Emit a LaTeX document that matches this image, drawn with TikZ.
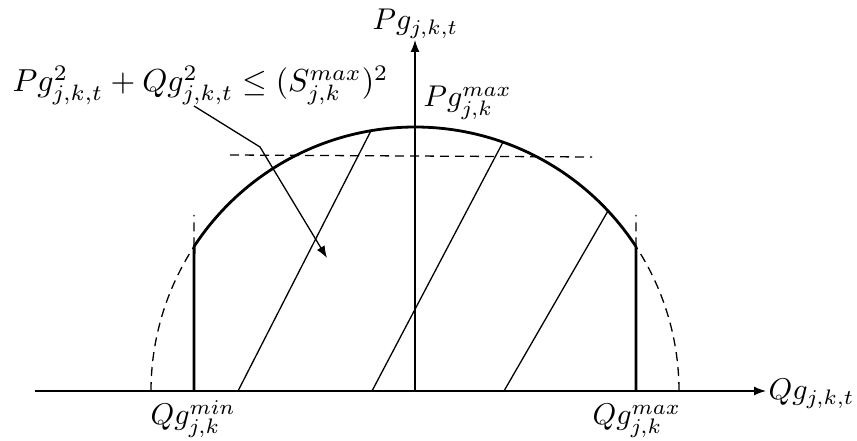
\documentclass[tikz,border=0pt]{standalone}
\usetikzlibrary{arrows.meta,calc}
\begin{document}
\begin{tikzpicture}[x=1pt,y=1pt,
  thin line/.style={line width=1.3pt},
  thick line/.style={line width=2.8pt},
  dash line/.style={line width=1.3pt,dash pattern=on 9pt off 6pt},
  tip/.style={-{Latex[length=12pt,width=9pt]}},
  lbl/.style={inner sep=0pt,anchor=base west,scale=3.0}]
\useasboundingbox (0,0) rectangle (857,441);
% key points
\coordinate (O) at (415,50);
\coordinate (xl) at (35,50);
\coordinate (xr) at (766,50);
\coordinate (yt) at (415,401);
\coordinate (qmin) at (194,50);
\coordinate (qmax) at (636,50);
\coordinate (qminc) at ($(O)+(146.8:264)$);
\coordinate (qmaxc) at ($(O)+(33.2:264)$);
\coordinate (qmint) at (194,226);
\coordinate (qmaxt) at (636,226);
% axes
\draw[thin line,tip] (xl) -- (xr);
\draw[thin line,tip] (O) -- (yt);
% dashed full semicircle parts
\draw[dash line] ($(O)+(180:264)$) arc[start angle=180,end angle=146.8,radius=264];
\draw[dash line] ($(O)+(0:264)$) arc[start angle=0,end angle=33.2,radius=264];
% solid arc
\draw[thick line] (qmaxc) arc[start angle=33.2,end angle=146.8,radius=264];
% vertical limits
\draw[thick line] (qmin) -- (qminc);
\draw[thick line] (qmax) -- (qmaxc);
\draw[dash line] (qminc) -- (qmint);
\draw[dash line] (qmaxc) -- (qmaxt);
% dashed horizontal
\coordinate (hl) at (230,286);
\coordinate (hr) at (592,284);
\draw[dash line] (hl) -- (hr);
% hatching
\coordinate (h1a) at (238,50); \coordinate (h1b) at (371,310.3);
\coordinate (h2a) at (372,50); \coordinate (h2b) at (503,298.9);
\coordinate (h3a) at (504,50); \coordinate (h3b) at (608,230.1);
\draw[thin line] (h1a) -- (h1b);
\draw[thin line] (h2a) -- (h2b);
\draw[thin line] (h3a) -- (h3b);
% labels
\node[lbl] (py) at (372,411) {$Pg_{j,k,t}$};
\node[lbl] (qx) at (768,41) {$Qg_{j,k,t}$};
\node[lbl] (pmax) at (423,334) {$Pg_{j,k}^{max}$};
\node[lbl] (qminl) at (150,16) {$Qg_{j,k}^{min}$};
\node[lbl] (qmaxl) at (592,16) {$Qg_{j,k}^{max}$};
\node[lbl,scale=1.06] (eq) at (12,349) {$Pg_{j,k,t}^2+Qg_{j,k,t}^2\leq(S_{j,k}^{max})^2$};
% annotation
\coordinate (a1) at (194,335);
\coordinate (a2) at (260,294);
\coordinate (a3) at (327,183);
\draw[thin line,tip] (a1) -- (a2) -- (a3);
\end{tikzpicture}
\end{document}
